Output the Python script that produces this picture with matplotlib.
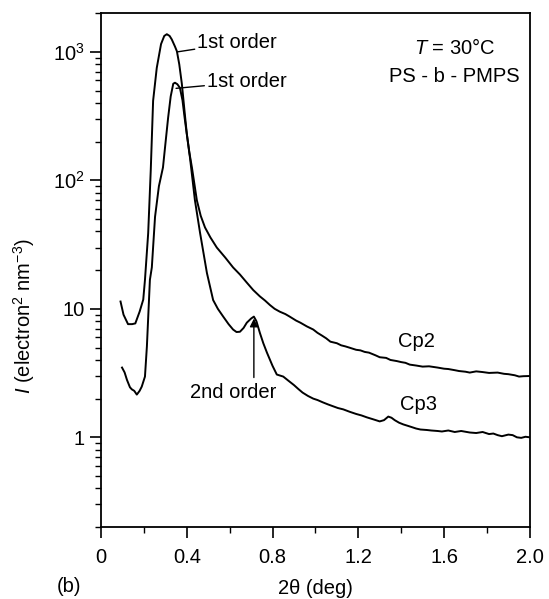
"""SAXS intensity profiles of PS-b-PMPS (Cp2, Cp3) at 30 °C on a log scale."""

import matplotlib
matplotlib.use("Agg")
import matplotlib.pyplot as plt
import matplotlib.ticker as ticker

plt.rcParams["font.family"] = ["Liberation Sans", "DejaVu Sans"]
plt.rcParams["mathtext.fontset"] = "custom"
plt.rcParams["mathtext.rm"] = "Liberation Sans"
plt.rcParams["mathtext.it"] = "Liberation Sans:italic"

# 2theta (deg) and intensity (electron^2 nm^-3)
cp2_x = [0.091, 0.105, 0.126, 0.145, 0.16, 0.18, 0.197, 0.205, 0.22, 0.232, 0.243,
         0.26, 0.28, 0.295, 0.307, 0.32, 0.33, 0.345, 0.354, 0.365, 0.377, 0.39,
         0.40, 0.412, 0.424, 0.447, 0.465, 0.485, 0.51, 0.54, 0.58, 0.616, 0.648,
         0.68, 0.71, 0.741, 0.765, 0.788, 0.81, 0.834, 0.86, 0.88, 0.91, 0.93,
         0.96, 0.99, 1.01, 1.03, 1.05, 1.07, 1.10, 1.12, 1.14, 1.16, 1.19, 1.21,
         1.23, 1.25, 1.28, 1.30, 1.33, 1.35, 1.38, 1.40, 1.42, 1.44, 1.47, 1.50,
         1.53, 1.57, 1.60, 1.62, 1.65, 1.67, 1.70, 1.72, 1.75, 1.78, 1.81, 1.85,
         1.88, 1.90, 1.93, 1.95, 1.97, 2.0]
cp2_y = [11.4, 9.0, 7.6, 7.6, 7.7, 9.5, 11.8, 16.8, 38.8, 120, 416,
         750, 1150, 1330, 1372, 1330, 1250, 1100, 1010, 800, 565, 340,
         232, 165, 126, 70, 53, 43, 36, 30, 25, 21, 18.5,
         16, 14, 12.5, 11.6, 10.7, 10.0, 9.5, 9.1, 8.7, 8.1, 7.8,
         7.3, 6.9, 6.5, 6.2, 5.9, 5.55, 5.4, 5.2, 5.1, 4.98, 4.8, 4.75,
         4.62, 4.56, 4.35, 4.2, 4.15, 4.0, 3.92, 3.85, 3.80, 3.68, 3.62, 3.55,
         3.57, 3.49, 3.42, 3.40, 3.33, 3.28, 3.24, 3.19, 3.26, 3.22, 3.17, 3.19,
         3.12, 3.10, 3.04, 2.97, 2.99, 3.0]

cp3_x = [0.098, 0.11, 0.121, 0.135, 0.144, 0.155, 0.167, 0.18, 0.19, 0.205, 0.214,
         0.228, 0.237, 0.252, 0.27, 0.289, 0.30, 0.313, 0.325, 0.337, 0.345, 0.356,
         0.368, 0.38, 0.39, 0.40, 0.415, 0.438, 0.462, 0.494, 0.523, 0.545, 0.57,
         0.595, 0.616, 0.632, 0.648, 0.665, 0.68, 0.70, 0.713, 0.725, 0.741, 0.757,
         0.774, 0.80, 0.82, 0.85, 0.875, 0.90, 0.92, 0.94, 0.965, 0.99, 1.01, 1.035,
         1.06, 1.08, 1.105, 1.13, 1.16, 1.19, 1.215, 1.24, 1.27, 1.30, 1.32, 1.34,
         1.355, 1.37, 1.39, 1.41, 1.43, 1.45, 1.47, 1.49, 1.52, 1.54, 1.57, 1.59,
         1.62, 1.65, 1.68, 1.72, 1.75, 1.78, 1.81, 1.83, 1.85, 1.87, 1.90, 1.92,
         1.94, 1.96, 1.98, 2.0]
cp3_y = [3.49, 3.2, 2.8, 2.45, 2.36, 2.3, 2.15, 2.3, 2.48, 2.97, 5.1,
         16.8, 21, 52, 90, 126, 190, 307, 450, 565, 575, 560,
         525, 420, 307, 230, 150, 70, 39, 19, 11.7, 10.0, 8.7,
         7.6, 6.9, 6.6, 6.63, 7.1, 7.8, 8.4, 8.7, 8.0, 6.5, 5.4,
         4.56, 3.6, 3.08, 2.97, 2.75, 2.55, 2.38, 2.23, 2.10, 2.0, 1.95, 1.87,
         1.80, 1.75, 1.69, 1.65, 1.58, 1.52, 1.48, 1.43, 1.38, 1.33, 1.36, 1.45,
         1.42, 1.36, 1.30, 1.26, 1.23, 1.20, 1.17, 1.15, 1.14, 1.13, 1.12, 1.11,
         1.13, 1.10, 1.12, 1.09, 1.08, 1.10, 1.06, 1.07, 1.04, 1.02, 1.05, 1.04,
         1.0, 0.99, 1.01, 1.0]

ytick_vals = [1, 10, 100, 1000]
ytick_labels = ["1", "10", r"$10^2$", r"$10^3$"]
xtick_vals = [0, 0.4, 0.8, 1.2, 1.6, 2.0]
xtick_labels = ["0", "0.4", "0.8", "1.2", "1.6", "2.0"]

fig = plt.figure(figsize=(5.49, 5.99), dpi=100)
ax = fig.add_axes([0.184, 0.120, 0.781, 0.858])

ax.plot(cp2_x, cp2_y, color="black", lw=1.4)
ax.plot(cp3_x, cp3_y, color="black", lw=1.4)

ax.set_yscale("log")
ax.set_xlim(0, 2.0)
ax.set_ylim(0.2, 2000)

ax.set_xticks(xtick_vals)
ax.set_xticklabels(xtick_labels)
ax.xaxis.set_minor_locator(ticker.MultipleLocator(0.2))
ax.set_yticks(ytick_vals)
ax.set_yticklabels(ytick_labels)
ax.yaxis.set_minor_locator(ticker.LogLocator(base=10, subs=range(2, 10)))
ax.yaxis.set_minor_formatter(ticker.NullFormatter())

ax.tick_params(which="major", direction="out", length=8, width=1.2, labelsize=14.5)
ax.tick_params(axis="x", which="major", pad=7)
ax.tick_params(which="minor", direction="out", length=4, width=1.0)
for s in ax.spines.values():
    s.set_linewidth(1.3)

ax.set_xlabel(r"2θ (deg)", fontsize=14.5, labelpad=9)
ax.set_ylabel(r"$I$ (electron$^2$ nm$^{-3}$)", fontsize=14.5)
ax.yaxis.set_label_coords(-0.15, 0.41)

fs = 14.5
# peak labels with short leader lines
ax.annotate("1st order", xy=(0.357, 1000), xytext=(0.45, 1180),
            fontsize=fs, va="center", ha="left",
            arrowprops=dict(arrowstyle="-", color="black", lw=1.0, shrinkA=0, shrinkB=0))
ax.annotate("1st order", xy=(0.35, 520), xytext=(0.495, 585),
            fontsize=fs, va="center", ha="left",
            arrowprops=dict(arrowstyle="-", color="black", lw=1.0, shrinkA=0, shrinkB=0))
ax.annotate("", xy=(0.713, 8.4), xytext=(0.713, 2.92),
            arrowprops=dict(arrowstyle="-|>", color="black", lw=1.0,
                            mutation_scale=12, shrinkA=0, shrinkB=0))
ax.text(0.415, 2.23, "2nd order", fontsize=fs, va="center", ha="left")

ax.text(1.65, 1080, r"$T$ = 30°C", fontsize=fs, ha="center", va="center")
ax.text(1.65, 640, "PS - b - PMPS", fontsize=fs, ha="center", va="center")

ax.text(1.47, 5.6, "Cp2", fontsize=fs, ha="center", va="center")
ax.text(1.48, 1.8, "Cp3", fontsize=fs, ha="center", va="center")

fig.text(0.125, 0.005, "(b)", fontsize=fs, ha="center", va="bottom")

fig.savefig("out.png", dpi=100)
